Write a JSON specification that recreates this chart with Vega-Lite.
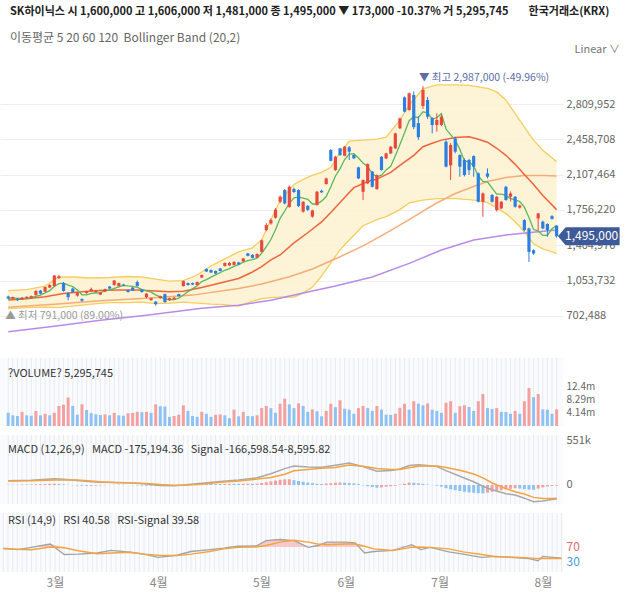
{
  "$schema": "https://vega.github.io/schema/vega-lite/v6.json",
  "background": "white",
  "padding": {"left": 0, "top": 6, "right": 0, "bottom": 0},
  "spacing": 7,
  "title": {
    "text": "SK하이닉스 시 1,600,000 고 1,606,000 저 1,481,000 종 1,495,000 ▼ 173,000 -10.37% 거 5,295,745\u00a0\u00a0\u00a0\u00a0\u00a0\u00a0\u00a0\u00a0한국거래소(KRX)",
    "subtitle": "이동평균 5 20 60 120\u00a0\u00a0Bollinger Band (20,2)",
    "anchor": "start",
    "frame": "group",
    "dx": 10,
    "fontSize": 11,
    "fontWeight": "bold",
    "color": "#222222",
    "subtitleFontSize": 12,
    "subtitleColor": "#666666",
    "subtitlePadding": 16,
    "offset": 0
  },
  "config": {
    "font": "Noto Sans CJK KR",
    "view": {"stroke": null},
    "axis": {"domain": false, "ticks": false, "labelColor": "#666666", "labelFontSize": 11, "labelFont": "Noto Sans CJK KR", "labelOverlap": false},
    "title": {"font": "Noto Sans CJK KR", "subtitleFont": "Noto Sans CJK KR"}
  },
  "datasets": {
    "bars": [
      {"i":0,"o":896000,"h":905000,"l":866000,"c":876000,"v":4200000,"m5":880000,"hist":2000},
      {"i":1,"o":876000,"h":896000,"l":870000,"c":890000,"v":3400000,"m5":882000,"hist":3000},
      {"i":2,"o":873000,"h":878000,"l":852000,"c":860000,"v":3200000,"m5":878000,"hist":4000},
      {"i":3,"o":866000,"h":892000,"l":862000,"c":884000,"v":4500000,"m5":878000,"hist":5000},
      {"i":4,"o":880000,"h":898000,"l":875000,"c":893000,"v":3400000,"m5":881000,"hist":6000},
      {"i":5,"o":885000,"h":906000,"l":880000,"c":900000,"v":3300000,"m5":885000,"hist":6000},
      {"i":6,"o":910000,"h":958000,"l":905000,"c":952000,"v":4800000,"m5":898000,"hist":8000},
      {"i":7,"o":955000,"h":962000,"l":918000,"c":925000,"v":3400000,"m5":911000,"hist":10000},
      {"i":8,"o":945000,"h":995000,"l":940000,"c":990000,"v":3900000,"m5":932000,"hist":12000},
      {"i":9,"o":985000,"h":1018000,"l":980000,"c":1010000,"v":3400000,"m5":955000,"hist":14000},
      {"i":10,"o":1000000,"h":1110000,"l":995000,"c":1105000,"v":4200000,"m5":996000,"hist":16000},
      {"i":11,"o":1080000,"h":1112000,"l":1070000,"c":1095000,"v":6400000,"m5":1025000,"hist":12000},
      {"i":12,"o":1030000,"h":1040000,"l":945000,"c":950000,"v":6800000,"m5":1030000,"hist":8000},
      {"i":13,"o":930000,"h":940000,"l":860000,"c":890000,"v":9100000,"m5":1010000,"hist":2000},
      {"i":14,"o":975000,"h":985000,"l":935000,"c":940000,"v":6400000,"m5":996000,"hist":-3000},
      {"i":15,"o":905000,"h":942000,"l":895000,"c":930000,"v":3600000,"m5":961000,"hist":-6000},
      {"i":16,"o":870000,"h":878000,"l":845000,"c":855000,"v":6900000,"m5":913000,"hist":-8000},
      {"i":17,"o":930000,"h":952000,"l":925000,"c":945000,"v":5100000,"m5":912000,"hist":-10000},
      {"i":18,"o":950000,"h":985000,"l":945000,"c":970000,"v":4100000,"m5":928000,"hist":-9000},
      {"i":19,"o":940000,"h":962000,"l":935000,"c":955000,"v":3700000,"m5":931000,"hist":-7000},
      {"i":20,"o":915000,"h":942000,"l":910000,"c":935000,"v":3500000,"m5":932000,"hist":-5000},
      {"i":21,"o":945000,"h":975000,"l":940000,"c":970000,"v":3700000,"m5":955000,"hist":-3000},
      {"i":22,"o":995000,"h":1000000,"l":970000,"c":975000,"v":3400000,"m5":961000,"hist":-1000},
      {"i":23,"o":1010000,"h":1060000,"l":1005000,"c":1055000,"v":4200000,"m5":978000,"hist":2000},
      {"i":24,"o":1000000,"h":1035000,"l":995000,"c":1030000,"v":3400000,"m5":993000,"hist":4000},
      {"i":25,"o":1015000,"h":1022000,"l":1000000,"c":1005000,"v":3300000,"m5":1007000,"hist":3000},
      {"i":26,"o":960000,"h":965000,"l":935000,"c":940000,"v":4100000,"m5":1001000,"hist":1000},
      {"i":27,"o":985000,"h":990000,"l":950000,"c":955000,"v":4200000,"m5":997000,"hist":-2000},
      {"i":28,"o":1040000,"h":1055000,"l":995000,"c":1000000,"v":4500000,"m5":986000,"hist":-4000},
      {"i":29,"o":965000,"h":970000,"l":935000,"c":940000,"v":4400000,"m5":968000,"hist":-6000},
      {"i":30,"o":890000,"h":930000,"l":880000,"c":925000,"v":4500000,"m5":952000,"hist":-8000},
      {"i":31,"o":860000,"h":885000,"l":855000,"c":880000,"v":4200000,"m5":940000,"hist":-10000},
      {"i":32,"o":845000,"h":850000,"l":805000,"c":820000,"v":6900000,"m5":913000,"hist":-12000},
      {"i":33,"o":880000,"h":905000,"l":875000,"c":900000,"v":6300000,"m5":893000,"hist":-11000},
      {"i":34,"o":920000,"h":925000,"l":835000,"c":840000,"v":6200000,"m5":873000,"hist":-12000},
      {"i":35,"o":860000,"h":885000,"l":855000,"c":880000,"v":2900000,"m5":864000,"hist":-9000},
      {"i":36,"o":870000,"h":890000,"l":865000,"c":885000,"v":3200000,"m5":865000,"hist":-6000},
      {"i":37,"o":920000,"h":925000,"l":895000,"c":900000,"v":3600000,"m5":881000,"hist":-4000},
      {"i":38,"o":1000000,"h":1055000,"l":995000,"c":1050000,"v":6600000,"m5":911000,"hist":4000},
      {"i":39,"o":1030000,"h":1035000,"l":1005000,"c":1010000,"v":4800000,"m5":945000,"hist":8000},
      {"i":40,"o":1030000,"h":1035000,"l":1010000,"c":1015000,"v":3200000,"m5":972000,"hist":10000},
      {"i":41,"o":1010000,"h":1045000,"l":1005000,"c":1040000,"v":2900000,"m5":1003000,"hist":12000},
      {"i":42,"o":1085000,"h":1115000,"l":1080000,"c":1110000,"v":4500000,"m5":1045000,"hist":14000},
      {"i":43,"o":1170000,"h":1175000,"l":1140000,"c":1145000,"v":3900000,"m5":1064000,"hist":16000},
      {"i":44,"o":1160000,"h":1165000,"l":1130000,"c":1135000,"v":2900000,"m5":1089000,"hist":14000},
      {"i":45,"o":1150000,"h":1155000,"l":1120000,"c":1125000,"v":3600000,"m5":1111000,"hist":12000},
      {"i":46,"o":1175000,"h":1180000,"l":1145000,"c":1150000,"v":3700000,"m5":1133000,"hist":12000},
      {"i":47,"o":1200000,"h":1235000,"l":1195000,"c":1230000,"v":3400000,"m5":1157000,"hist":13000},
      {"i":48,"o":1205000,"h":1238000,"l":1200000,"c":1230000,"v":2500000,"m5":1174000,"hist":14000},
      {"i":49,"o":1210000,"h":1248000,"l":1205000,"c":1240000,"v":5200000,"m5":1195000,"hist":14000},
      {"i":50,"o":1235000,"h":1240000,"l":1210000,"c":1215000,"v":3100000,"m5":1213000,"hist":13000},
      {"i":51,"o":1245000,"h":1280000,"l":1240000,"c":1275000,"v":4500000,"m5":1238000,"hist":14000},
      {"i":52,"o":1325000,"h":1330000,"l":1295000,"c":1300000,"v":3200000,"m5":1252000,"hist":15000},
      {"i":53,"o":1310000,"h":1318000,"l":1275000,"c":1280000,"v":3150000,"m5":1262000,"hist":14000},
      {"i":54,"o":1285000,"h":1325000,"l":1280000,"c":1320000,"v":3400000,"m5":1278000,"hist":16000},
      {"i":55,"o":1340000,"h":1462000,"l":1335000,"c":1455000,"v":5700000,"m5":1326000,"hist":25000},
      {"i":56,"o":1556000,"h":1625000,"l":1545000,"c":1606000,"v":6400000,"m5":1392000,"hist":35000},
      {"i":57,"o":1623000,"h":1672000,"l":1610000,"c":1656000,"v":5700000,"m5":1463000,"hist":45000},
      {"i":58,"o":1680000,"h":1775000,"l":1670000,"c":1760000,"v":4200000,"m5":1559000,"hist":55000},
      {"i":59,"o":1838000,"h":1900000,"l":1825000,"c":1888000,"v":7100000,"m5":1673000,"hist":65000},
      {"i":60,"o":1954000,"h":1965000,"l":1812000,"c":1822000,"v":8700000,"m5":1746000,"hist":70000},
      {"i":61,"o":1788000,"h":2000000,"l":1778000,"c":1987000,"v":6900000,"m5":1823000,"hist":72000},
      {"i":62,"o":1965000,"h":1978000,"l":1925000,"c":1935000,"v":5700000,"m5":1878000,"hist":60000},
      {"i":63,"o":1954000,"h":1962000,"l":1785000,"c":1795000,"v":7200000,"m5":1885000,"hist":50000},
      {"i":64,"o":1740000,"h":1845000,"l":1730000,"c":1838000,"v":6400000,"m5":1875000,"hist":40000},
      {"i":65,"o":1798000,"h":1805000,"l":1745000,"c":1758000,"v":4500000,"m5":1863000,"hist":30000},
      {"i":66,"o":1690000,"h":1760000,"l":1680000,"c":1752000,"v":5300000,"m5":1816000,"hist":22000},
      {"i":67,"o":1805000,"h":1945000,"l":1800000,"c":1938000,"v":4700000,"m5":1816000,"hist":15000},
      {"i":68,"o":1948000,"h":1958000,"l":1925000,"c":1932000,"v":3100000,"m5":1844000,"hist":12000},
      {"i":69,"o":2015000,"h":2078000,"l":2008000,"c":2070000,"v":4800000,"m5":1890000,"hist":18000},
      {"i":70,"o":2352000,"h":2362000,"l":2240000,"c":2245000,"v":7100000,"m5":1987000,"hist":22000},
      {"i":71,"o":2153000,"h":2295000,"l":2145000,"c":2286000,"v":6000000,"m5":2094000,"hist":28000},
      {"i":72,"o":2369000,"h":2375000,"l":2295000,"c":2302000,"v":8200000,"m5":2167000,"hist":30000},
      {"i":73,"o":2296000,"h":2392000,"l":2290000,"c":2385000,"v":5500000,"m5":2258000,"hist":28000},
      {"i":74,"o":2379000,"h":2392000,"l":2253000,"c":2336000,"v":5200000,"m5":2311000,"hist":25000},
      {"i":75,"o":2302000,"h":2310000,"l":2262000,"c":2270000,"v":3900000,"m5":2316000,"hist":20000},
      {"i":76,"o":2180000,"h":2186000,"l":2064000,"c":2070000,"v":5700000,"m5":2273000,"hist":10000},
      {"i":77,"o":1937000,"h":2060000,"l":1855000,"c":2054000,"v":6400000,"m5":2223000,"hist":-5000},
      {"i":78,"o":2021000,"h":2220000,"l":2015000,"c":2213000,"v":5700000,"m5":2189000,"hist":-15000},
      {"i":79,"o":2137000,"h":2145000,"l":1980000,"c":1987000,"v":4800000,"m5":2119000,"hist":-25000},
      {"i":80,"o":1964000,"h":2110000,"l":1958000,"c":2104000,"v":6400000,"m5":2086000,"hist":-35000},
      {"i":81,"o":2286000,"h":2292000,"l":2147000,"c":2153000,"v":5200000,"m5":2102000,"hist":-30000},
      {"i":82,"o":2269000,"h":2325000,"l":2262000,"c":2319000,"v":3600000,"m5":2155000,"hist":-20000},
      {"i":83,"o":2319000,"h":2392000,"l":2312000,"c":2385000,"v":3550000,"m5":2190000,"hist":-15000},
      {"i":84,"o":2369000,"h":2525000,"l":2362000,"c":2518000,"v":3900000,"m5":2296000,"hist":-10000},
      {"i":85,"o":2568000,"h":2675000,"l":2560000,"c":2667000,"v":5800000,"m5":2408000,"hist":5000},
      {"i":86,"o":2876000,"h":2885000,"l":2727000,"c":2734000,"v":7100000,"m5":2525000,"hist":15000},
      {"i":87,"o":2750000,"h":2925000,"l":2743000,"c":2916000,"v":5200000,"m5":2644000,"hist":30000},
      {"i":88,"o":2900000,"h":2935000,"l":2560000,"c":2580000,"v":7900000,"m5":2683000,"hist":28000},
      {"i":89,"o":2620000,"h":2690000,"l":2452000,"c":2480000,"v":7100000,"m5":2675000,"hist":20000},
      {"i":90,"o":2790000,"h":2987000,"l":2760000,"c":2950000,"v":6600000,"m5":2732000,"hist":14000},
      {"i":91,"o":2850000,"h":2880000,"l":2660000,"c":2684000,"v":7200000,"m5":2722000,"hist":6000},
      {"i":92,"o":2668000,"h":2680000,"l":2518000,"c":2601000,"v":5200000,"m5":2659000,"hist":-2000},
      {"i":93,"o":2601000,"h":2717000,"l":2535000,"c":2651000,"v":4800000,"m5":2673000,"hist":-8000},
      {"i":94,"o":2601000,"h":2700000,"l":2590000,"c":2684000,"v":4200000,"m5":2714000,"hist":-20000},
      {"i":95,"o":2435000,"h":2450000,"l":2180000,"c":2187000,"v":7400000,"m5":2561000,"hist":-40000},
      {"i":96,"o":2200000,"h":2420000,"l":2054000,"c":2402000,"v":7900000,"m5":2505000,"hist":-55000},
      {"i":97,"o":2468000,"h":2485000,"l":2320000,"c":2336000,"v":4200000,"m5":2452000,"hist":-65000},
      {"i":98,"o":2302000,"h":2310000,"l":2087000,"c":2187000,"v":6300000,"m5":2359000,"hist":-75000},
      {"i":99,"o":2253000,"h":2270000,"l":2090000,"c":2104000,"v":6600000,"m5":2243000,"hist":-85000},
      {"i":100,"o":2253000,"h":2265000,"l":2104000,"c":2153000,"v":6050000,"m5":2236000,"hist":-92000},
      {"i":101,"o":2292000,"h":2300000,"l":2087000,"c":2187000,"v":4800000,"m5":2193000,"hist":-98000},
      {"i":102,"o":2120000,"h":2130000,"l":1830000,"c":1838000,"v":7900000,"m5":2094000,"hist":-103000},
      {"i":103,"o":1838000,"h":1930000,"l":1689000,"c":1921000,"v":10200000,"m5":2041000,"hist":-105000},
      {"i":104,"o":2120000,"h":2170000,"l":2070000,"c":2087000,"v":5700000,"m5":2037000,"hist":-95000},
      {"i":105,"o":1905000,"h":1915000,"l":1830000,"c":1838000,"v":5400000,"m5":1974000,"hist":-85000},
      {"i":106,"o":1755000,"h":1895000,"l":1740000,"c":1888000,"v":5700000,"m5":1914000,"hist":-75000},
      {"i":107,"o":1772000,"h":1845000,"l":1765000,"c":1838000,"v":4500000,"m5":1914000,"hist":-65000},
      {"i":108,"o":1987000,"h":1995000,"l":1850000,"c":1855000,"v":4450000,"m5":1901000,"hist":-55000},
      {"i":109,"o":1888000,"h":1940000,"l":1840000,"c":1921000,"v":3900000,"m5":1868000,"hist":-48000},
      {"i":110,"o":1888000,"h":1895000,"l":1780000,"c":1788000,"v":4800000,"m5":1858000,"hist":-40000},
      {"i":111,"o":1780000,"h":1810000,"l":1770000,"c":1800000,"v":3900000,"m5":1840000,"hist":-45000},
      {"i":112,"o":1656000,"h":1665000,"l":1545000,"c":1556000,"v":7900000,"m5":1784000,"hist":-52000},
      {"i":113,"o":1573000,"h":1580000,"l":1240000,"c":1340000,"v":12100000,"m5":1681000,"hist":-58000},
      {"i":114,"o":1357000,"h":1365000,"l":1310000,"c":1324000,"v":9200000,"m5":1562000,"hist":-60000},
      {"i":115,"o":1672000,"h":1726000,"l":1556000,"c":1722000,"v":10200000,"m5":1548000,"hist":-45000},
      {"i":116,"o":1640000,"h":1650000,"l":1565000,"c":1573000,"v":5300000,"m5":1503000,"hist":-30000},
      {"i":117,"o":1617000,"h":1625000,"l":1490000,"c":1556000,"v":5200000,"m5":1503000,"hist":-18000},
      {"i":118,"o":1695000,"h":1705000,"l":1660000,"c":1668000,"v":3900000,"m5":1569000,"hist":-12000},
      {"i":119,"o":1600000,"h":1606000,"l":1481000,"c":1495000,"v":5295745,"m5":1603000,"hist":-8595.82}
    ],
    "bb": [
      {"i":0,"u":955000,"lo":775000},{"i":4,"u":965000,"lo":785000},{"i":8,"u":1000000,"lo":790000},
      {"i":11,"u":1090000,"lo":785000},{"i":14,"u":1090000,"lo":800000},{"i":18,"u":1080000,"lo":820000},
      {"i":22,"u":1085000,"lo":835000},{"i":26,"u":1095000,"lo":835000},{"i":29,"u":1090000,"lo":840000},
      {"i":32,"u":1070000,"lo":825000},{"i":35,"u":1050000,"lo":830000},{"i":38,"u":1055000,"lo":840000},
      {"i":41,"u":1110000,"lo":830000},{"i":44,"u":1200000,"lo":820000},{"i":47,"u":1270000,"lo":815000},
      {"i":50,"u":1340000,"lo":800000},{"i":53,"u":1380000,"lo":850000},{"i":55,"u":1460000,"lo":875000},
      {"i":57,"u":1660000,"lo":885000},{"i":59,"u":1850000,"lo":890000},{"i":62,"u":2010000,"lo":890000},
      {"i":64,"u":2060000,"lo":930000},{"i":66,"u":2100000,"lo":990000},{"i":68,"u":2130000,"lo":1100000},
      {"i":70,"u":2180000,"lo":1230000},{"i":72,"u":2330000,"lo":1360000},{"i":74,"u":2440000,"lo":1458000},
      {"i":77,"u":2450000,"lo":1600000},{"i":80,"u":2460000,"lo":1660000},{"i":82,"u":2480000,"lo":1690000},
      {"i":85,"u":2650000,"lo":1760000},{"i":87,"u":2800000,"lo":1826000},{"i":90,"u":2960000,"lo":1855000},
      {"i":93,"u":3000000,"lo":1870000},{"i":97,"u":3000000,"lo":1870000},{"i":100,"u":2995000,"lo":1860000},
      {"i":102,"u":2980000,"lo":1850000},{"i":104,"u":2966000,"lo":1830000},{"i":106,"u":2930000,"lo":1780000},
      {"i":108,"u":2850000,"lo":1720000},{"i":110,"u":2714000,"lo":1640000},{"i":112,"u":2580000,"lo":1540000},
      {"i":114,"u":2450000,"lo":1420000},{"i":116,"u":2350000,"lo":1370000},{"i":119,"u":2237000,"lo":1325000}
    ],
    "ma": [
      {"s":"MA120","i":0,"v":546000},{"s":"MA120","i":10,"v":600000},{"s":"MA120","i":20,"v":660000},
      {"s":"MA120","i":30,"v":710000},{"s":"MA120","i":42,"v":779000},{"s":"MA120","i":50,"v":810000},
      {"s":"MA120","i":57,"v":860000},{"s":"MA120","i":64,"v":931000},{"s":"MA120","i":71,"v":1000000},
      {"s":"MA120","i":79,"v":1090000},{"s":"MA120","i":87,"v":1226000},{"s":"MA120","i":94,"v":1358000},
      {"s":"MA120","i":101,"v":1458000},{"s":"MA120","i":108,"v":1508000},{"s":"MA120","i":115,"v":1541000},
      {"s":"MA120","i":119,"v":1557000},
      {"s":"MA60","i":0,"v":790000},{"s":"MA60","i":10,"v":820000},{"s":"MA60","i":20,"v":855000},
      {"s":"MA60","i":30,"v":880000},{"s":"MA60","i":40,"v":910000},{"s":"MA60","i":50,"v":975000},
      {"s":"MA60","i":55,"v":1020000},{"s":"MA60","i":61,"v":1093000},{"s":"MA60","i":66,"v":1170000},
      {"s":"MA60","i":72,"v":1292000},{"s":"MA60","i":77,"v":1400000},{"s":"MA60","i":82,"v":1527000},
      {"s":"MA60","i":87,"v":1660000},{"s":"MA60","i":90,"v":1745000},{"s":"MA60","i":93,"v":1826000},
      {"s":"MA60","i":97,"v":1920000},{"s":"MA60","i":101,"v":1990000},{"s":"MA60","i":104,"v":2040000},
      {"s":"MA60","i":108,"v":2080000},{"s":"MA60","i":112,"v":2100000},{"s":"MA60","i":116,"v":2098000},
      {"s":"MA60","i":119,"v":2094000},
      {"s":"MA20","i":0,"v":861000},{"s":"MA20","i":4,"v":875000},{"s":"MA20","i":8,"v":895000},
      {"s":"MA20","i":12,"v":925000},{"s":"MA20","i":16,"v":944000},{"s":"MA20","i":20,"v":955000},
      {"s":"MA20","i":24,"v":962000},{"s":"MA20","i":28,"v":962000},{"s":"MA20","i":32,"v":950000},
      {"s":"MA20","i":35,"v":944000},{"s":"MA20","i":38,"v":948000},{"s":"MA20","i":42,"v":985000},
      {"s":"MA20","i":46,"v":1030000},{"s":"MA20","i":50,"v":1075000},{"s":"MA20","i":53,"v":1140000},
      {"s":"MA20","i":55,"v":1193000},{"s":"MA20","i":57,"v":1260000},{"s":"MA20","i":59,"v":1309000},
      {"s":"MA20","i":62,"v":1430000},{"s":"MA20","i":65,"v":1530000},{"s":"MA20","i":68,"v":1638000},
      {"s":"MA20","i":70,"v":1731000},{"s":"MA20","i":73,"v":1880000},{"s":"MA20","i":75,"v":1978000},
      {"s":"MA20","i":78,"v":2040000},{"s":"MA20","i":80,"v":2063000},{"s":"MA20","i":83,"v":2130000},
      {"s":"MA20","i":85,"v":2199000},{"s":"MA20","i":88,"v":2300000},{"s":"MA20","i":90,"v":2385000},
      {"s":"MA20","i":92,"v":2420000},{"s":"MA20","i":94,"v":2451000},{"s":"MA20","i":97,"v":2478000},
      {"s":"MA20","i":100,"v":2485000},{"s":"MA20","i":102,"v":2460000},{"s":"MA20","i":104,"v":2430000},
      {"s":"MA20","i":106,"v":2370000},{"s":"MA20","i":108,"v":2300000},{"s":"MA20","i":110,"v":2210000},
      {"s":"MA20","i":112,"v":2110000},{"s":"MA20","i":114,"v":2010000},{"s":"MA20","i":116,"v":1900000},
      {"s":"MA20","i":119,"v":1760000}
    ],
    "macd": [
      {"i":0,"m":52000,"s":50000},{"i":5,"m":58000,"s":52000},{"i":10,"m":79000,"s":63000},
      {"i":12,"m":72000,"s":64000},{"i":15,"m":55000,"s":61000},{"i":18,"m":42000,"s":51000},
      {"i":20,"m":35000,"s":40000},{"i":23,"m":32000,"s":30000},{"i":26,"m":28000,"s":27000},
      {"i":30,"m":12000,"s":20000},{"i":33,"m":-5000,"s":6000},{"i":36,"m":-8000,"s":-2000},
      {"i":38,"m":0,"s":-4000},{"i":42,"m":22000,"s":8000},{"i":46,"m":45000,"s":33000},
      {"i":50,"m":62000,"s":49000},{"i":54,"m":90000,"s":74000},{"i":57,"m":140000,"s":95000},
      {"i":60,"m":205000,"s":135000},{"i":62,"m":238000,"s":178000},{"i":65,"m":225000,"s":195000},
      {"i":68,"m":222000,"s":210000},{"i":71,"m":248000,"s":220000},{"i":74,"m":275000,"s":250000},
      {"i":77,"m":230000,"s":235000},{"i":80,"m":172000,"s":207000},{"i":83,"m":180000,"s":195000},
      {"i":85,"m":200000,"s":195000},{"i":87,"m":245000,"s":215000},{"i":89,"m":255000,"s":235000},
      {"i":91,"m":245000,"s":239000},{"i":93,"m":230000,"s":238000},{"i":95,"m":180000,"s":220000},
      {"i":98,"m":110000,"s":185000},{"i":101,"m":40000,"s":138000},{"i":103,"m":-15000,"s":90000},
      {"i":105,"m":-60000,"s":25000},{"i":108,"m":-110000,"s":-45000},{"i":110,"m":-125000,"s":-85000},
      {"i":112,"m":-165000,"s":-113000},{"i":114,"m":-210000,"s":-155000},{"i":116,"m":-200000,"s":-170000},
      {"i":118,"m":-182000,"s":-170000},{"i":119,"m":-175194.36,"s":-166598.54}
    ],
    "rsi": [
      {"i":0,"r":67,"s":65.5},{"i":3,"r":63,"s":64},{"i":6,"r":69,"s":63},{"i":10,"r":78,"s":70},
      {"i":13,"r":50,"s":68},{"i":16,"r":51,"s":60},{"i":20,"r":54,"s":52},{"i":23,"r":61,"s":54},
      {"i":27,"r":56,"s":56},{"i":30,"r":51,"s":51},{"i":33,"r":42.5,"s":48},{"i":37,"r":48,"s":47},
      {"i":40,"r":58,"s":51},{"i":44,"r":63,"s":58},{"i":47,"r":67,"s":65},{"i":50,"r":72,"s":69},
      {"i":54,"r":73,"s":70},{"i":56,"r":87,"s":74},{"i":59,"r":90,"s":83},{"i":62,"r":87,"s":88},
      {"i":65,"r":69,"s":83},{"i":67,"r":74,"s":78},{"i":69,"r":83,"s":76},{"i":73,"r":83,"s":78},
      {"i":75,"r":81,"s":78},{"i":77,"r":54,"s":72},{"i":79,"r":58,"s":65},{"i":83,"r":61,"s":61},
      {"i":86,"r":72,"s":67},{"i":87,"r":76,"s":69},{"i":89,"r":63,"s":70},{"i":91,"r":69,"s":69},
      {"i":95,"r":57,"s":65},{"i":98,"r":51,"s":57},{"i":102,"r":42.5,"s":50},{"i":105,"r":45,"s":44},
      {"i":108,"r":42.5,"s":43},{"i":112,"r":39,"s":41},{"i":114,"r":33.5,"s":39},{"i":115,"r":45,"s":39},
      {"i":119,"r":40.58,"s":39.58}
    ],
    "notes": [
      {"kind":"hi","i":90,"p":2987000,"t":"▼ 최고 2,987,000 (-49.96%)"},
      {"kind":"lo","i":0,"p":791000,"t":"▲ 최저 791,000 (89.00%)"}
    ]
  },
  "vconcat": [
    {
      "width": 563,
      "height": 292,
      "title": {"text": "Linear ∨", "anchor": "end", "frame": "group", "fontSize": 11, "fontWeight": "normal", "color": "#777777", "offset": 3, "dx": 57},
      "layer": [
        {
          "data": {"name": "bb"},
          "mark": {"type": "area", "color": "#fdf1d0", "opacity": 0.85},
          "encoding": {
            "x": {"field": "i", "type": "quantitative", "scale": {"domain": [-0.7, 119.3], "nice": false, "zero": false}, "axis": null},
            "y": {"field": "u", "type": "quantitative", "title": null,
                  "scale": {"domain": [364466, 3267238], "nice": false, "zero": false},
                  "axis": {"orient": "right", "values": [702488, 1053732, 1404976, 1756220, 2107464, 2458708, 2809952], "format": ",d", "grid": true, "gridColor": "#eeeeee", "labelPadding": 3, "title": null}},
            "y2": {"field": "lo"}
          }
        },
        {
          "data": {"name": "bb"},
          "mark": {"type": "line", "color": "#f6cd5e", "strokeWidth": 1.3},
          "encoding": {
            "x": {"field": "i", "type": "quantitative", "scale": {"domain": [-0.7, 119.3], "nice": false, "zero": false}, "axis": null},
            "y": {"field": "u", "type": "quantitative", "title": null, "scale": {"domain": [364466, 3267238], "nice": false, "zero": false}}
          }
        },
        {
          "data": {"name": "bb"},
          "mark": {"type": "line", "color": "#f6cd5e", "strokeWidth": 1.3},
          "encoding": {
            "x": {"field": "i", "type": "quantitative", "scale": {"domain": [-0.7, 119.3], "nice": false, "zero": false}, "axis": null},
            "y": {"field": "lo", "type": "quantitative", "title": null, "scale": {"domain": [364466, 3267238], "nice": false, "zero": false}}
          }
        },
        {
          "data": {"name": "ma"},
          "mark": {"type": "line", "strokeWidth": 1.5},
          "encoding": {
            "x": {"field": "i", "type": "quantitative", "scale": {"domain": [-0.7, 119.3], "nice": false, "zero": false}, "axis": null},
            "y": {"field": "v", "type": "quantitative", "title": null, "scale": {"domain": [364466, 3267238], "nice": false, "zero": false}},
            "color": {"field": "s", "type": "nominal", "scale": {"domain": ["MA120", "MA60", "MA20"], "range": ["#b98be8", "#f5ad78", "#f0643c"]}, "legend": null}
          }
        },
        {
          "data": {"name": "bars"},
          "mark": {"type": "line", "color": "#5cb85c", "strokeWidth": 1.3},
          "encoding": {
            "x": {"field": "i", "type": "quantitative", "scale": {"domain": [-0.7, 119.3], "nice": false, "zero": false}, "axis": null},
            "y": {"field": "m5", "type": "quantitative", "title": null, "scale": {"domain": [364466, 3267238], "nice": false, "zero": false}}
          }
        },
        {
          "data": {"name": "bars"},
          "mark": {"type": "rule", "strokeWidth": 1},
          "encoding": {
            "x": {"field": "i", "type": "quantitative", "scale": {"domain": [-0.7, 119.3], "nice": false, "zero": false}, "axis": null},
            "y": {"field": "l", "type": "quantitative", "title": null, "scale": {"domain": [364466, 3267238], "nice": false, "zero": false}},
            "y2": {"field": "h"},
            "color": {"condition": {"test": "datum.c >= datum.o", "value": "#e8493f"}, "value": "#2b7fe0"}
          }
        },
        {
          "data": {"name": "bars"},
          "mark": {"type": "bar", "width": 3.2},
          "encoding": {
            "x": {"field": "i", "type": "quantitative", "scale": {"domain": [-0.7, 119.3], "nice": false, "zero": false}, "axis": null},
            "y": {"field": "o", "type": "quantitative", "title": null, "scale": {"domain": [364466, 3267238], "nice": false, "zero": false}},
            "y2": {"field": "c"},
            "color": {"condition": {"test": "datum.c >= datum.o", "value": "#e8493f"}, "value": "#2b7fe0"}
          }
        },
        {
          "data": {"name": "notes"},
          "transform": [{"filter": "datum.kind == 'hi'"}],
          "mark": {"type": "text", "align": "left", "baseline": "middle", "dx": -4, "dy": -8, "fontSize": 10.5, "color": "#5c6ea6"},
          "encoding": {
            "x": {"field": "i", "type": "quantitative", "scale": {"domain": [-0.7, 119.3], "nice": false, "zero": false}, "axis": null},
            "y": {"field": "p", "type": "quantitative", "title": null, "scale": {"domain": [364466, 3267238], "nice": false, "zero": false}},
            "text": {"field": "t"}
          }
        },
        {
          "data": {"name": "notes"},
          "transform": [{"filter": "datum.kind == 'lo'"}],
          "mark": {"type": "text", "align": "left", "baseline": "middle", "dx": -3, "dy": 9, "fontSize": 10.5, "color": "#9a9a9a"},
          "encoding": {
            "x": {"field": "i", "type": "quantitative", "scale": {"domain": [-0.7, 119.3], "nice": false, "zero": false}, "axis": null},
            "y": {"field": "p", "type": "quantitative", "title": null, "scale": {"domain": [364466, 3267238], "nice": false, "zero": false}},
            "text": {"field": "t"}
          }
        },
        {
          "data": {"name": "bars"},
          "transform": [{"filter": "datum.i == 119"}],
          "mark": {"type": "point", "shape": "M0.15,0L1,-1L7,-1L7,1L1,1Z", "size": 324, "filled": true, "color": "#3f5a98", "opacity": 1, "strokeWidth": 0},
          "encoding": {
            "x": {"field": "i", "type": "quantitative", "scale": {"domain": [-0.7, 119.3], "nice": false, "zero": false}, "axis": null},
            "y": {"field": "c", "type": "quantitative", "title": null, "scale": {"domain": [364466, 3267238], "nice": false, "zero": false}}
          }
        },
        {
          "data": {"name": "bars"},
          "transform": [{"filter": "datum.i == 119"}],
          "mark": {"type": "text", "align": "center", "baseline": "middle", "dx": 35, "fontSize": 12, "color": "white"},
          "encoding": {
            "x": {"field": "i", "type": "quantitative", "scale": {"domain": [-0.7, 119.3], "nice": false, "zero": false}, "axis": null},
            "y": {"field": "c", "type": "quantitative", "title": null, "scale": {"domain": [364466, 3267238], "nice": false, "zero": false}},
            "text": {"field": "c", "type": "quantitative", "format": ",d"}
          }
        }
      ]
    },
    {
      "width": 563,
      "height": 68,
      "view": {"fill": "#fafbfd"},
      "title": {"text": "?VOLUME? 5,295,745", "anchor": "start", "frame": "group", "baseline": "top", "offset": -21, "dx": 8, "fontSize": 11, "fontWeight": "normal", "color": "#333333"},
      "layer": [
        {
          "data": {"name": "bars"},
          "mark": {"type": "rule", "color": "#e8ebf2", "strokeWidth": 1},
          "encoding": {
            "x": {"field": "i", "type": "quantitative", "scale": {"domain": [-0.7, 119.3], "nice": false, "zero": false}, "axis": null}
          }
        },
        {
          "data": {"name": "bars"},
          "transform": [{"window": [{"op": "lag", "field": "v", "as": "pv"}], "sort": [{"field": "i", "order": "ascending"}]}],
          "mark": {"type": "bar", "width": 3},
          "encoding": {
            "x": {"field": "i", "type": "quantitative", "scale": {"domain": [-0.7, 119.3], "nice": false, "zero": false}, "axis": null},
            "y": {"field": "v", "type": "quantitative", "title": null, "scale": {"domain": [0, 21670000], "nice": false},
                  "axis": {"orient": "right", "values": [4143000, 8286000, 12430000], "labelExpr": "format(datum.value / 1000000, '.3') + 'm'", "grid": false, "labelPadding": 3, "labelFontSize": 10, "title": null}},
            "color": {"condition": {"test": "datum.pv != null && datum.v > datum.pv", "value": "#f3a0a0"}, "value": "#8ec2f2"}
          }
        }
      ]
    },
    {
      "width": 563,
      "height": 69,
      "view": {"fill": "#fafbfd"},
      "title": {"text": "MACD (12,26,9)\u00a0\u00a0\u00a0MACD -175,194.36\u00a0\u00a0\u00a0Signal -166,598.54-8,595.82", "anchor": "start", "frame": "group", "baseline": "top", "offset": -20, "dx": 8, "fontSize": 11, "fontWeight": "normal", "color": "#333333"},
      "layer": [
        {
          "data": {"name": "bars"},
          "mark": {"type": "rule", "color": "#e8ebf2", "strokeWidth": 1},
          "encoding": {
            "x": {"field": "i", "type": "quantitative", "scale": {"domain": [-0.7, 119.3], "nice": false, "zero": false}, "axis": null}
          }
        },
        {
          "data": {"name": "bars"},
          "transform": [{"window": [{"op": "lag", "field": "hist", "as": "ph"}], "sort": [{"field": "i", "order": "ascending"}]}],
          "mark": {"type": "bar", "width": 3},
          "encoding": {
            "x": {"field": "i", "type": "quantitative", "scale": {"domain": [-0.7, 119.3], "nice": false, "zero": false}, "axis": null},
            "y": {"field": "hist", "type": "quantitative", "title": null, "scale": {"domain": [-238000, 626000], "nice": false, "zero": false},
                  "axis": {"orient": "right", "values": [0, 275400, 551000], "labelExpr": "datum.value == 0 ? '0' : floor(datum.value / 1000) + 'k'", "grid": false, "labelPadding": 3, "labelOverlap": false, "title": null}},
            "y2": {"datum": 0},
            "color": {"condition": {"test": "datum.ph != null && datum.hist > datum.ph", "value": "#f3a0a0"}, "value": "#8ec2f2"}
          }
        },
        {
          "mark": {"type": "rule", "color": "#cfcfcf", "strokeWidth": 1},
          "encoding": {
            "y": {"datum": 0, "type": "quantitative", "title": null, "scale": {"domain": [-238000, 626000], "nice": false, "zero": false}}
          }
        },
        {
          "data": {"name": "macd"},
          "mark": {"type": "line", "color": "#a9a9a9", "strokeWidth": 1.5},
          "encoding": {
            "x": {"field": "i", "type": "quantitative", "scale": {"domain": [-0.7, 119.3], "nice": false, "zero": false}, "axis": null},
            "y": {"field": "m", "type": "quantitative", "title": null, "scale": {"domain": [-238000, 626000], "nice": false, "zero": false}}
          }
        },
        {
          "data": {"name": "macd"},
          "mark": {"type": "line", "color": "#f5a341", "strokeWidth": 1.5},
          "encoding": {
            "x": {"field": "i", "type": "quantitative", "scale": {"domain": [-0.7, 119.3], "nice": false, "zero": false}, "axis": null},
            "y": {"field": "s", "type": "quantitative", "title": null, "scale": {"domain": [-238000, 626000], "nice": false, "zero": false}}
          }
        }
      ]
    },
    {
      "width": 563,
      "height": 59,
      "view": {"fill": "#fafbfd"},
      "title": {"text": "RSI (14,9)\u00a0\u00a0\u00a0RSI 40.58\u00a0\u00a0\u00a0RSI-Signal 39.58", "anchor": "start", "frame": "group", "baseline": "top", "offset": -13, "dx": 8, "fontSize": 11, "fontWeight": "normal", "color": "#333333"},
      "resolve": {"scale": {"y": "independent"}, "axis": {"y": "independent"}},
      "layer": [
        {
          "data": {"name": "bars"},
          "mark": {"type": "rule", "color": "#e8ebf2", "strokeWidth": 1},
          "encoding": {
            "x": {"field": "i", "type": "quantitative", "scale": {"domain": [-0.7, 119.3], "nice": false, "zero": false}, "title": null,
                  "axis": {"orient": "bottom", "values": [11, 33, 55, 73, 93, 115], "grid": false, "labelColor": "#888888", "labelFontSize": 12, "labelPadding": 5, "labelFlush": false, "title": null,
                           "labelExpr": "datum.value == 11 ? '3월' : datum.value == 33 ? '4월' : datum.value == 55 ? '5월' : datum.value == 73 ? '6월' : datum.value == 93 ? '7월' : '8월'"}}
          }
        },
        {
          "data": {"name": "rsi"},
          "mark": {"type": "area", "color": "#f6c2c2", "opacity": 0.85},
          "encoding": {
            "x": {"field": "i", "type": "quantitative", "title": null, "scale": {"domain": [-0.7, 119.3], "nice": false, "zero": false}},
            "y": {"field": "r", "type": "quantitative", "scale": {"domain": [70, 160.67], "range": [34, 0], "clamp": true, "nice": false, "zero": false}, "axis": null},
            "y2": {"datum": 70}
          }
        },
        {
          "mark": {"type": "rule", "color": "#f5b8b8", "strokeWidth": 1},
          "encoding": {
            "y": {"datum": 70, "type": "quantitative", "scale": {"domain": [3.33, 160.67], "nice": false, "zero": false},
                  "axis": {"orient": "right", "values": [30, 70], "grid": false, "labelPadding": 3, "labelFontSize": 12, "title": null,
                           "labelColor": {"condition": {"test": "datum.value == 70", "value": "#e06c6c"}, "value": "#4a9be0"}}}
          }
        },
        {
          "mark": {"type": "rule", "color": "#a9d0f2", "strokeWidth": 1},
          "encoding": {
            "y": {"datum": 30, "type": "quantitative", "scale": {"domain": [3.33, 160.67], "nice": false, "zero": false}, "axis": null}
          }
        },
        {
          "data": {"name": "rsi"},
          "mark": {"type": "line", "color": "#a3a3a3", "strokeWidth": 1.3},
          "encoding": {
            "x": {"field": "i", "type": "quantitative", "title": null, "scale": {"domain": [-0.7, 119.3], "nice": false, "zero": false}},
            "y": {"field": "r", "type": "quantitative", "scale": {"domain": [3.33, 160.67], "nice": false, "zero": false}, "axis": null}
          }
        },
        {
          "data": {"name": "rsi"},
          "mark": {"type": "line", "color": "#f5a341", "strokeWidth": 1.5},
          "encoding": {
            "x": {"field": "i", "type": "quantitative", "title": null, "scale": {"domain": [-0.7, 119.3], "nice": false, "zero": false}},
            "y": {"field": "s", "type": "quantitative", "scale": {"domain": [3.33, 160.67], "nice": false, "zero": false}, "axis": null}
          }
        }
      ]
    }
  ]
}
